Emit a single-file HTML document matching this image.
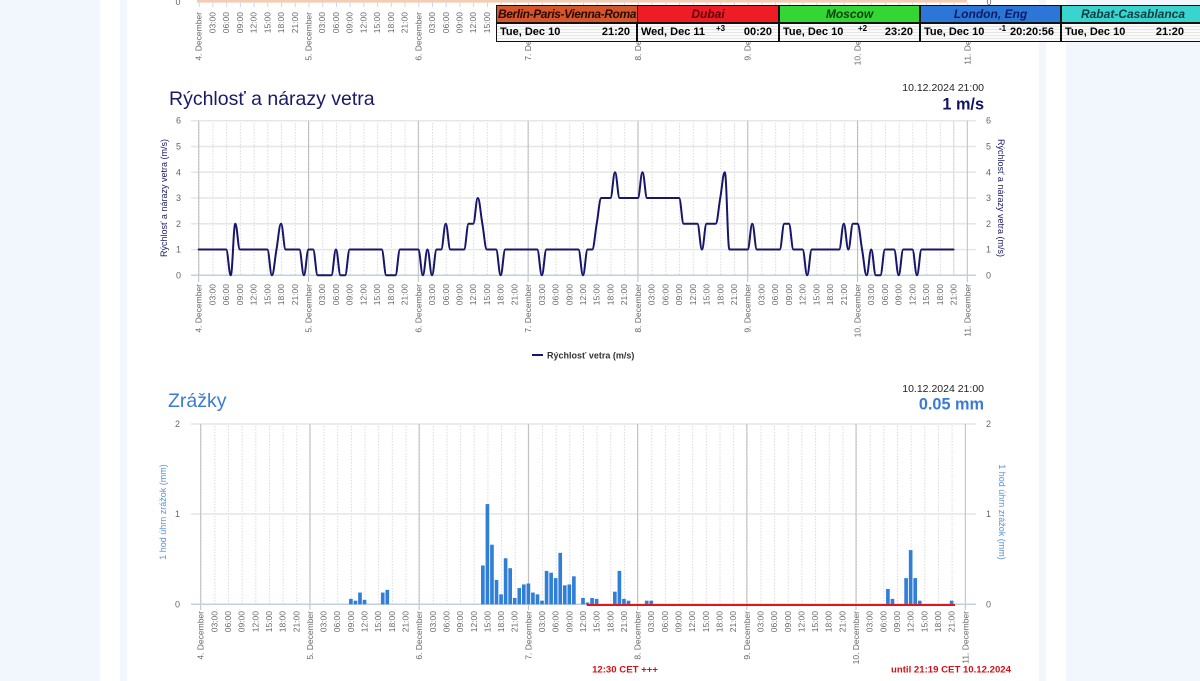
<!DOCTYPE html>
<html><head><meta charset="utf-8">
<style>
html,body{margin:0;padding:0;width:1200px;height:681px;overflow:hidden;background:#fff;font-family:"Liberation Sans",sans-serif;}
.bg{position:absolute;top:0;height:681px;}
svg text{font-family:"Liberation Sans",sans-serif;}
.tl text{font-size:8.5px;fill:#666;text-anchor:end;}
.yl{font-size:9px;fill:#666;}
#clk{position:absolute;left:496px;top:5px;width:720px;height:37px;background:#111;}
.h,.b{position:absolute;overflow:hidden;white-space:nowrap;}
.h{top:1px;height:16px;line-height:16px;font-size:12px;font-weight:bold;font-style:italic;text-align:center;}
.b{top:19px;height:17px;line-height:17px;font-size:11px;font-weight:bold;color:#000;
background:repeating-linear-gradient(to bottom,#fbfbfb 0,#fbfbfb 2px,#e6e6e6 2px,#e6e6e6 3px);}
.b .d{position:absolute;left:3px;top:0;}
.b .tm{position:absolute;right:6px;top:0;}
.b .s{position:absolute;left:78px;top:0px;font-size:8px;line-height:10px;}
</style></head><body>
<div class="bg" style="left:0;width:100px;background:#f2f6fd"></div>
<div class="bg" style="left:120px;width:7px;background:#f2f6fd"></div>
<div class="bg" style="left:1039px;width:7px;background:#f2f6fd"></div>
<div class="bg" style="left:1066px;width:134px;background:#f2f6fd"></div>

<svg width="1200" height="681" style="position:absolute;left:0;top:0" xmlns="http://www.w3.org/2000/svg">
<defs>
<pattern id="pw" patternUnits="userSpaceOnUse" x="198.7" y="0" width="13.725" height="3"><rect x="0" y="0" width="1" height="1.5" fill="#dadada"/></pattern>
<pattern id="pp" patternUnits="userSpaceOnUse" x="200.7" y="0" width="13.653" height="3"><rect x="0" y="0" width="1" height="1.5" fill="#dadada"/></pattern>
<pattern id="pt" patternUnits="userSpaceOnUse" x="198.7" y="0" width="13.725" height="20"><rect x="0" y="0" width="1" height="20" fill="#ccd6eb"/></pattern>
</defs>

<!-- ===== top strip (previous chart bottom) ===== -->
<rect x="197" y="0" width="770" height="2.6" fill="#f2cdb3"/>
<rect x="198" y="2.6" width="771" height="4.5" fill="url(#pt)"/>
<text x="178" y="5" font-size="9" fill="#666" text-anchor="middle">0</text>
<text x="989" y="5" font-size="9" fill="#666" text-anchor="middle">0</text>
<g class="tl" transform="translate(3,12) rotate(-90)">
<text y="198.7">4. December</text><text y="212.4">03:00</text><text y="226.2">06:00</text><text y="239.9">09:00</text><text y="253.6">12:00</text><text y="267.3">15:00</text><text y="281.1">18:00</text><text y="294.8">21:00</text>
<text y="308.5">5. December</text><text y="322.2">03:00</text><text y="335.9">06:00</text><text y="349.7">09:00</text><text y="363.4">12:00</text><text y="377.1">15:00</text><text y="390.9">18:00</text><text y="404.6">21:00</text>
<text y="418.3">6. December</text><text y="432.0">03:00</text><text y="445.8">06:00</text><text y="459.5">09:00</text><text y="473.2">12:00</text><text y="486.9">15:00</text><text y="500.7">18:00</text><text y="514.4">21:00</text>
<text y="528.1">7. December</text><text y="637.9">8. December</text><text y="747.7">9. December</text><text y="857.5">10. December</text><text y="967.3">11. December</text>
</g>

<!-- ===== Wind chart ===== -->
<text x="169" y="105" font-size="19.5" fill="#1a1a6b">Rýchlosť a nárazy vetra</text>
<text x="984" y="91" font-size="10.5" fill="#222" text-anchor="end">10.12.2024 21:00</text>
<text x="984" y="109.5" font-size="16.3" font-weight="bold" fill="#141464" text-anchor="end">1 m/s</text>

<rect x="199" y="121" width="768" height="154" fill="url(#pw)"/>
<path d="M191 120.7H976M191 146.5H976M191 172.3H976M191 198H976M191 223.8H976M191 249.6H976" stroke="#e6e6e6" stroke-width="1.5" fill="none"/>
<path d="M198.7 120.7V282M308.5 120.7V282M418.3 120.7V282M528.1 120.7V282M637.9 120.7V282M747.7 120.7V282M857.5 120.7V282M967.3 120.7V282" stroke="#bdbdbd" stroke-width="1" fill="none"/>
<path d="M953.6 120.7V275" stroke="#dcdcdc" stroke-width="1" fill="none"/>
<path d="M191 275.3H976" stroke="#c0d0e0" stroke-width="1.5" fill="none"/>

<g class="yl" text-anchor="end">
<text x="181" y="123.7">6</text><text x="181" y="149.5">5</text><text x="181" y="175.3">4</text><text x="181" y="201">3</text><text x="181" y="226.8">2</text><text x="181" y="252.6">1</text><text x="181" y="278.3">0</text>
</g>
<g class="yl">
<text x="986" y="123.7">6</text><text x="986" y="149.5">5</text><text x="986" y="175.3">4</text><text x="986" y="201">3</text><text x="986" y="226.8">2</text><text x="986" y="252.6">1</text><text x="986" y="278.3">0</text>
</g>
<text transform="translate(167,198) rotate(-90)" text-anchor="middle" font-size="9" fill="#1a1a6b">Rýchlosť a nárazy vetra (m/s)</text>
<text transform="translate(998,198) rotate(90)" text-anchor="middle" font-size="9" fill="#1a1a6b">Rýchlosť a nárazy vetra (m/s)</text>

<g transform="translate(198.7,275.3) scale(4.575,-25.77)">
<path fill="none" stroke="#16166a" stroke-width="2" stroke-linejoin="round" stroke-linecap="round" vector-effect="non-scaling-stroke"
d="M0,1 L6,1 C6.4,1 6.6,0 7,0 C7.4,0 7.6,2 8,2 C8.4,2 8.6,1 9,1 L15,1 C15.4,1 15.6,0 16,0 C16.4,0 16.6,0.6 17,1 C17.4,1.4 17.6,2 18,2 C18.4,2 18.6,1 19,1 L22,1 C22.4,1 22.6,0 23,0 C23.4,0 23.6,1 24,1 L25,1 C25.4,1 25.6,0 26,0 L29,0 C29.4,0 29.6,1 30,1 C30.4,1 30.6,0 31,0 L32,0 C32.4,0 32.6,1 33,1 L40,1 C40.4,1 40.6,0 41,0 L43,0 C43.4,0 43.6,1 44,1 L48,1 C48.4,1 48.6,0 49,0 C49.4,0 49.6,1 50,1 C50.4,1 50.6,0 51,0 C51.4,0 51.6,1 52,1 L53,1 C53.4,1 53.6,2 54,2 C54.4,2 54.6,1 55,1 L58,1 C58.4,1 58.6,2 59,2 L60,2 C60.4,2 60.6,3 61,3 C61.4,3 61.6,2.4 62,2 C62.4,1.6 62.6,1 63,1 L65,1 C65.4,1 65.6,0 66,0 C66.4,0 66.6,1 67,1 L74,1 C74.4,1 74.6,0 75,0 C75.4,0 75.6,1 76,1 L83,1 C83.4,1 83.6,0 84,0 C84.4,0 84.6,1 85,1 L86,1 C86.4,1 86.6,1.6 87,2 C87.4,2.4 87.6,3 88,3 L90,3 C90.4,3 90.6,4 91,4 C91.4,4 91.6,3 92,3 L96,3 C96.4,3 96.6,4 97,4 C97.4,4 97.6,3 98,3 L105,3 C105.4,3 105.6,2 106,2 L109,2 C109.4,2 109.6,1 110,1 C110.4,1 110.6,2 111,2 L113,2 C113.4,2 113.6,2.6 114,3 C114.4,3.4 114.6,4 115,4 C115.4,4 115.6,1 116,1 L120,1 C120.4,1 120.6,2 121,2 C121.4,2 121.6,1 122,1 L127,1 C127.4,1 127.6,2 128,2 L129,2 C129.4,2 129.6,1 130,1 L132,1 C132.4,1 132.6,0 133,0 C133.4,0 133.6,1 134,1 L140,1 C140.4,1 140.6,2 141,2 C141.4,2 141.6,1 142,1 C142.4,1 142.6,2 143,2 L144,2 C144.4,2 144.6,1.4 145,1 C145.4,0.6 145.6,0 146,0 C146.4,0 146.6,1 147,1 C147.4,1 147.6,0 148,0 L149,0 C149.4,0 149.6,1 150,1 L152,1 C152.4,1 152.6,0 153,0 C153.4,0 153.6,1 154,1 L156,1 C156.4,1 156.6,0 157,0 C157.4,0 157.6,1 158,1 L165,1"/>
</g>

<g class="tl" transform="translate(3,284) rotate(-90)">
<text y="198.7">4. December</text><text y="212.4">03:00</text><text y="226.2">06:00</text><text y="239.9">09:00</text><text y="253.6">12:00</text><text y="267.3">15:00</text><text y="281.1">18:00</text><text y="294.8">21:00</text>
<text y="308.5">5. December</text><text y="322.2">03:00</text><text y="335.9">06:00</text><text y="349.7">09:00</text><text y="363.4">12:00</text><text y="377.1">15:00</text><text y="390.9">18:00</text><text y="404.6">21:00</text>
<text y="418.3">6. December</text><text y="432.0">03:00</text><text y="445.8">06:00</text><text y="459.5">09:00</text><text y="473.2">12:00</text><text y="486.9">15:00</text><text y="500.7">18:00</text><text y="514.4">21:00</text>
<text y="528.1">7. December</text><text y="541.8">03:00</text><text y="555.6">06:00</text><text y="569.3">09:00</text><text y="583.0">12:00</text><text y="596.7">15:00</text><text y="610.5">18:00</text><text y="624.2">21:00</text>
<text y="637.9">8. December</text><text y="651.6">03:00</text><text y="665.4">06:00</text><text y="679.1">09:00</text><text y="692.8">12:00</text><text y="706.5">15:00</text><text y="720.3">18:00</text><text y="734.0">21:00</text>
<text y="747.7">9. December</text><text y="761.4">03:00</text><text y="775.2">06:00</text><text y="788.9">09:00</text><text y="802.6">12:00</text><text y="816.3">15:00</text><text y="830.1">18:00</text><text y="843.8">21:00</text>
<text y="857.5">10. December</text><text y="871.2">03:00</text><text y="885.0">06:00</text><text y="898.7">09:00</text><text y="912.4">12:00</text><text y="926.1">15:00</text><text y="939.9">18:00</text><text y="953.6">21:00</text>
<text y="967.3">11. December</text>
</g>

<!-- legend -->
<path d="M532 355H543" stroke="#16166a" stroke-width="2"/>
<text x="547" y="358.5" font-size="9" font-weight="bold" fill="#333">Rýchlosť vetra (m/s)</text>

<!-- ===== Precipitation chart ===== -->
<text x="168" y="407" font-size="19.5" fill="#3a7bd5">Zrážky</text>
<text x="984" y="392" font-size="10.5" fill="#222" text-anchor="end">10.12.2024 21:00</text>
<text x="984" y="409.5" font-size="16.3" font-weight="bold" fill="#3a7bd5" text-anchor="end">0.05 mm</text>

<rect x="201" y="424" width="764" height="180" fill="url(#pp)"/>
<path d="M191 424H976M191 514H976" stroke="#e6e6e6" stroke-width="1.5" fill="none"/>
<path d="M200.7 424V610M309.9 424V610M419.1 424V610M528.4 424V610M637.6 424V610M746.8 424V610M856 424V610M965.3 424V610" stroke="#bdbdbd" stroke-width="1" fill="none"/>
<path d="M191 604.3H976" stroke="#c0d0e0" stroke-width="1.5" fill="none"/>

<g class="yl" text-anchor="end">
<text x="180" y="427">2</text><text x="180" y="517">1</text><text x="180" y="607.3">0</text>
</g>
<g class="yl">
<text x="986" y="427">2</text><text x="986" y="517">1</text><text x="986" y="607.3">0</text>
</g>
<text transform="translate(166,512) rotate(-90)" text-anchor="middle" font-size="9" fill="#5a90d8">1 hod úhrn zrážok (mm)</text>
<text transform="translate(999,512) rotate(90)" text-anchor="middle" font-size="9" fill="#5a90d8">1 hod úhrn zrážok (mm)</text>

<g transform="translate(200.7,604.3) scale(4.551,-90.3)" fill="#2f7ed8">
<rect x="32.6" y="0" width="0.8" height="0.06"/><rect x="33.6" y="0" width="0.8" height="0.04"/><rect x="34.6" y="0" width="0.8" height="0.13"/><rect x="35.6" y="0" width="0.8" height="0.05"/>
<rect x="39.6" y="0" width="0.8" height="0.13"/><rect x="40.6" y="0" width="0.8" height="0.16"/>
<rect x="61.6" y="0" width="0.8" height="0.43"/><rect x="62.6" y="0" width="0.8" height="1.11"/><rect x="63.6" y="0" width="0.8" height="0.66"/><rect x="64.6" y="0" width="0.8" height="0.27"/>
<rect x="65.6" y="0" width="0.8" height="0.11"/><rect x="66.6" y="0" width="0.8" height="0.51"/><rect x="67.6" y="0" width="0.8" height="0.40"/><rect x="68.6" y="0" width="0.8" height="0.07"/>
<rect x="69.6" y="0" width="0.8" height="0.18"/><rect x="70.6" y="0" width="0.8" height="0.22"/><rect x="71.6" y="0" width="0.8" height="0.23"/><rect x="72.6" y="0" width="0.8" height="0.13"/>
<rect x="73.6" y="0" width="0.8" height="0.11"/><rect x="74.6" y="0" width="0.8" height="0.04"/><rect x="75.6" y="0" width="0.8" height="0.37"/><rect x="76.6" y="0" width="0.8" height="0.35"/>
<rect x="77.6" y="0" width="0.8" height="0.29"/><rect x="78.6" y="0" width="0.8" height="0.57"/><rect x="79.6" y="0" width="0.8" height="0.21"/><rect x="80.6" y="0" width="0.8" height="0.22"/>
<rect x="81.6" y="0" width="0.8" height="0.31"/>
<rect x="83.6" y="0" width="0.8" height="0.07"/><rect x="84.6" y="0" width="0.8" height="0.02"/><rect x="85.6" y="0" width="0.8" height="0.07"/><rect x="86.6" y="0" width="0.8" height="0.06"/>
<rect x="90.6" y="0" width="0.8" height="0.14"/><rect x="91.6" y="0" width="0.8" height="0.37"/><rect x="92.6" y="0" width="0.8" height="0.06"/><rect x="93.6" y="0" width="0.8" height="0.04"/>
<rect x="97.6" y="0" width="0.8" height="0.04"/><rect x="98.6" y="0" width="0.8" height="0.04"/>
<rect x="150.6" y="0" width="0.8" height="0.17"/><rect x="151.6" y="0" width="0.8" height="0.06"/>
<rect x="154.6" y="0" width="0.8" height="0.29"/><rect x="155.6" y="0" width="0.8" height="0.60"/><rect x="156.6" y="0" width="0.8" height="0.29"/><rect x="157.6" y="0" width="0.8" height="0.04"/>
<rect x="164.6" y="0" width="0.8" height="0.04"/>
</g>
<path d="M586.7 605H955" stroke="#e3141c" stroke-width="2"/>

<g class="tl" transform="translate(3,611) rotate(-90)">
<text y="200.7">4. December</text><text y="214.4">03:00</text><text y="228.0">06:00</text><text y="241.7">09:00</text><text y="255.3">12:00</text><text y="269.0">15:00</text><text y="282.6">18:00</text><text y="296.3">21:00</text>
<text y="309.9">5. December</text><text y="323.6">03:00</text><text y="337.2">06:00</text><text y="350.9">09:00</text><text y="364.5">12:00</text><text y="378.2">15:00</text><text y="391.8">18:00</text><text y="405.5">21:00</text>
<text y="419.1">6. December</text><text y="432.8">03:00</text><text y="446.5">06:00</text><text y="460.1">09:00</text><text y="473.8">12:00</text><text y="487.4">15:00</text><text y="501.1">18:00</text><text y="514.7">21:00</text>
<text y="528.4">7. December</text><text y="542.0">03:00</text><text y="555.7">06:00</text><text y="569.3">09:00</text><text y="583.0">12:00</text><text y="596.6">15:00</text><text y="610.3">18:00</text><text y="623.9">21:00</text>
<text y="637.6">8. December</text><text y="651.2">03:00</text><text y="664.9">06:00</text><text y="678.6">09:00</text><text y="692.2">12:00</text><text y="705.9">15:00</text><text y="719.5">18:00</text><text y="733.2">21:00</text>
<text y="746.8">9. December</text><text y="760.5">03:00</text><text y="774.1">06:00</text><text y="787.8">09:00</text><text y="801.4">12:00</text><text y="815.1">15:00</text><text y="828.7">18:00</text><text y="842.4">21:00</text>
<text y="856.0">10. December</text><text y="869.7">03:00</text><text y="883.4">06:00</text><text y="897.0">09:00</text><text y="910.7">12:00</text><text y="924.3">15:00</text><text y="938.0">18:00</text><text y="951.6">21:00</text>
<text y="965.3">11. December</text>
</g>

<text x="625" y="672.5" font-size="9.6" font-weight="bold" fill="#d41015" text-anchor="middle">12:30 CET +++</text>
<text x="951" y="672.5" font-size="9.6" font-weight="bold" fill="#d41015" text-anchor="middle">until 21:19 CET 10.12.2024</text>
</svg>

<!-- ===== Clock widget ===== -->
<div id="clk">
  <div class="h" style="left:1px;width:139px;background:#d5562b;color:#2a0800;text-align:left;letter-spacing:-0.4px;padding-left:1px;">Berlin-Paris-Vienna-Roma</div>
  <div class="h" style="left:142px;width:140px;background:#ee1c24;color:#5c0205;">Dubai</div>
  <div class="h" style="left:284px;width:139px;background:#33d633;color:#0a3f0a;">Moscow</div>
  <div class="h" style="left:425px;width:139px;background:#2b76d6;color:#0b1c66;">London, Eng</div>
  <div class="h" style="left:566px;width:150px;background:#38d4cd;color:#0c3d40;"><span style="position:absolute;left:0;width:142px;text-align:center">Rabat-Casablanca</span></div>

  <div class="b" style="left:1px;width:139px;"><span class="d">Tue, Dec 10</span><span class="tm">21:20</span></div>
  <div class="b" style="left:142px;width:140px;"><span class="d">Wed, Dec 11</span><span class="s">+3</span><span class="tm">00:20</span></div>
  <div class="b" style="left:284px;width:139px;"><span class="d">Tue, Dec 10</span><span class="s">+2</span><span class="tm">23:20</span></div>
  <div class="b" style="left:425px;width:139px;"><span class="d">Tue, Dec 10</span><span class="s">-1</span><span class="tm">20:20:56</span></div>
  <div class="b" style="left:566px;width:150px;"><span class="d">Tue, Dec 10</span><span class="tm" style="right:28px">21:20</span></div>
</div>
</body></html>
